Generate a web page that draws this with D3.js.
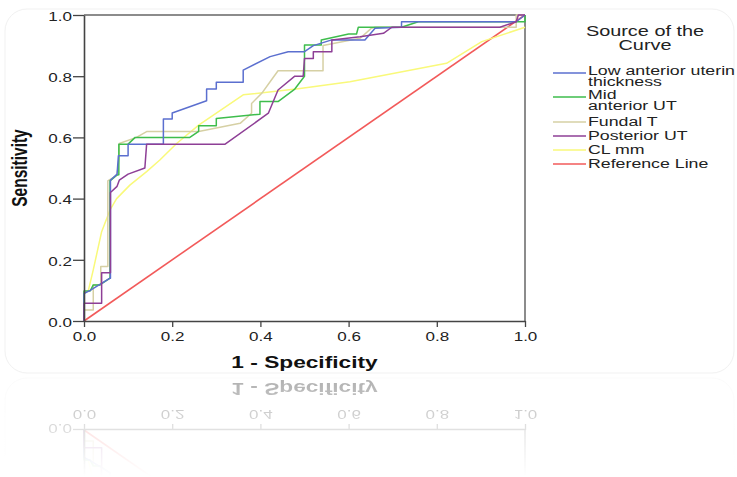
<!DOCTYPE html>
<html>
<head>
<meta charset="utf-8">
<script src="https://cdn.jsdelivr.net/npm/d3@7"></script>
<style>
  body { margin: 0; background: #fff; }
  svg { display: block; font-family: "Liberation Sans", Arial, sans-serif; }
</style>
</head>
<body>
<svg id="chart" width="737" height="477"></svg>
<script>
// ROC curves (x = 1 - specificity, y = sensitivity)
var lowAntX = [0, 0, 0.014, 0.059, 0.06, 0.06, 0.075, 0.078, 0.1, 0.1, 0.18, 0.18, 0.2, 0.2, 0.278, 0.278, 0.3, 0.3, 0.361, 0.361, 0.422, 0.463, 0.5, 0.52, 0.56, 0.637, 0.66, 0.72, 0.72, 0.98, 1];
var lowAntY = [0, 0.09, 0.1, 0.14, 0.14, 0.46, 0.48, 0.54, 0.54, 0.578, 0.578, 0.66, 0.66, 0.68, 0.72, 0.758, 0.758, 0.78, 0.78, 0.82, 0.864, 0.88, 0.88, 0.9, 0.918, 0.918, 0.957, 0.96, 0.978, 0.978, 1];

var midAntX = [0, 0, 0.014, 0.021, 0.036, 0.059, 0.059, 0.075, 0.079, 0.079, 0.1, 0.116, 0.24, 0.26, 0.26, 0.3, 0.3, 0.399, 0.399, 0.44, 0.478, 0.5, 0.5, 0.538, 0.538, 0.6, 0.618, 0.622, 0.72, 0.758, 1, 1];
var midAntY = [0, 0.098, 0.098, 0.118, 0.118, 0.14, 0.458, 0.477, 0.478, 0.578, 0.578, 0.6, 0.6, 0.62, 0.638, 0.638, 0.662, 0.676, 0.717, 0.717, 0.758, 0.8, 0.902, 0.902, 0.918, 0.938, 0.938, 0.96, 0.96, 0.978, 0.978, 1];

var fundalX = [0, 0, 0.021, 0.021, 0.038, 0.038, 0.054, 0.054, 0.075, 0.08, 0.08, 0.119, 0.142, 0.26, 0.354, 0.38, 0.38, 0.403, 0.422, 0.44, 0.542, 0.542, 0.626, 0.652, 0.66, 0.98, 0.98, 1];
var fundalY = [0, 0.036, 0.036, 0.118, 0.118, 0.178, 0.178, 0.458, 0.477, 0.54, 0.58, 0.6, 0.619, 0.619, 0.646, 0.679, 0.711, 0.744, 0.782, 0.818, 0.818, 0.9, 0.924, 0.957, 0.96, 0.96, 1, 1];

var posteriorX = [0, 0, 0.04, 0.04, 0.06, 0.06, 0.075, 0.08, 0.1, 0.138, 0.142, 0.32, 0.418, 0.44, 0.478, 0.497, 0.5, 0.52, 0.52, 0.562, 0.562, 0.626, 0.679, 0.698, 0.943, 0.98, 0.985, 1];
var posteriorY = [0, 0.058, 0.058, 0.158, 0.158, 0.42, 0.44, 0.46, 0.48, 0.5, 0.578, 0.578, 0.679, 0.755, 0.8, 0.8, 0.858, 0.858, 0.88, 0.88, 0.918, 0.929, 0.94, 0.96, 0.96, 0.978, 1, 1];

var clX = [0, 0.01, 0.021, 0.04, 0.059, 0.074, 0.104, 0.142, 0.172, 0.21, 0.26, 0.361, 0.49, 0.603, 0.822, 0.902, 1];
var clY = [0.09, 0.1, 0.167, 0.292, 0.363, 0.4, 0.444, 0.488, 0.526, 0.58, 0.64, 0.739, 0.76, 0.782, 0.842, 0.913, 0.96];

var refX = [0, 1];
var refY = [0, 1];

var seriesNames = ["Low anterior uterin\nthickness", "Mid\nanterior UT", "Fundal T", "Posterior UT", "CL mm", "Reference Line"];
var seriesColors = ["#5b6fcf", "#3ebd4c", "#d6d0a4", "#8e3f96", "#f9f97a", "#f25a5a"];
var tickValues = [0, 0.2, 0.4, 0.6, 0.8, 1.0];

var SX = 1.42; // the picture's text is stretched sideways

var svg = d3.select("#chart");
var defs = svg.append("defs");

var x = d3.scaleLinear().domain([0, 1]).range([84, 525]);
var y = d3.scaleLinear().domain([0, 1]).range([321, 15]);

var g = svg.append("g").attr("id", "main");

// card
g.append("rect")
  .attr("x", 5).attr("y", 9).attr("width", 729).attr("height", 364)
  .attr("rx", 22).attr("fill", "#fff").attr("stroke", "#f1f1f1");

// frame top / right
g.append("line").attr("x1", x(0)).attr("x2", x(1)).attr("y1", y(1)).attr("y2", y(1))
  .attr("stroke", "#8c8c8c").attr("stroke-width", 2);
g.append("line").attr("x1", x(1)).attr("x2", x(1)).attr("y1", y(1)).attr("y2", y(0))
  .attr("stroke", "#8c8c8c").attr("stroke-width", 2);

// curves
var allX = [lowAntX, midAntX, fundalX, posteriorX, clX, refX];
var allY = [lowAntY, midAntY, fundalY, posteriorY, clY, refY];
var line = d3.line().x(function (d) { return x(d[0]); }).y(function (d) { return y(d[1]); });
var order = [5, 4, 2, 1, 0, 3];
order.forEach(function (i) {
  var pts = d3.zip(allX[i], allY[i]);
  g.append("path")
    .attr("d", line(pts))
    .attr("fill", "none")
    .attr("stroke", seriesColors[i])
    .attr("stroke-width", i == 5 ? 1.6 : 1.5)
    .attr("stroke-linejoin", "round");
});

// axes
var xAxis = g.append("g").attr("transform", "translate(0," + y(0) + ")")
  .call(d3.axisBottom(x).tickValues(tickValues).tickFormat(d3.format(".1f")).tickSize(6).tickPadding(5).tickSizeOuter(0));
var yAxis = g.append("g").attr("transform", "translate(" + x(0) + ",0)")
  .call(d3.axisLeft(y).tickValues(tickValues).tickFormat(d3.format(".1f")).tickSize(11).tickPadding(1).tickSizeOuter(0));

[xAxis, yAxis].forEach(function (a) {
  a.selectAll(".domain").attr("stroke", "#444").attr("stroke-width", 1.6);
  a.selectAll(".tick line").attr("stroke", "#444").attr("stroke-width", 1.3);
  a.selectAll(".tick text").attr("font-size", 12).attr("fill", "#222")
    .attr("font-family", "Liberation Sans, Arial, sans-serif");
});
xAxis.selectAll(".tick text").attr("transform", "scale(" + SX + ",1)");
yAxis.selectAll(".tick text").attr("x", 0).attr("dy", "0.36em")
  .attr("transform", "translate(-12,1) scale(" + SX + ",1)");

// axis titles
g.append("text")
  .attr("transform", "translate(" + ((x(0) + x(1)) / 2) + ",368) scale(" + SX + ",1)")
  .attr("text-anchor", "middle").attr("font-size", 16).attr("font-weight", "bold").attr("fill", "#111")
  .text("1 - Specificity");
g.append("text")
  .attr("transform", "translate(27," + ((y(0) + y(1)) / 2) + ") scale(" + SX + ",1) rotate(-90)")
  .attr("text-anchor", "middle").attr("font-size", 15.5).attr("font-weight", "bold").attr("fill", "#111")
  .text("Sensitivity");

// legend
var lg = g.append("g");
["Source of the", "Curve"].forEach(function (t, i) {
  lg.append("text")
    .attr("transform", "translate(645," + (36 + i * 14) + ") scale(" + SX + ",1)")
    .attr("text-anchor", "middle").attr("font-size", 14).attr("fill", "#222").text(t);
});
var rowY = [73, 97, 122, 136, 150, 164];
seriesNames.forEach(function (name, i) {
  lg.append("line")
    .attr("x1", 553).attr("x2", 586).attr("y1", rowY[i]).attr("y2", rowY[i])
    .attr("stroke", seriesColors[i]).attr("stroke-width", 1.3);
  var parts = name.split("\n");
  var base = parts.length > 1 ? rowY[i] + 1.5 : rowY[i] + 3.5;
  parts.forEach(function (t, j) {
    lg.append("text")
      .attr("transform", "translate(588," + (base + j * 11.5) + ") scale(" + SX + ",1)")
      .attr("font-size", 12.5).attr("fill", "#222").text(t);
  });
});

// reflection below the card
var grad = defs.append("linearGradient").attr("id", "fade")
  .attr("gradientUnits", "userSpaceOnUse").attr("x1", 0).attr("y1", 376).attr("x2", 0).attr("y2", 477);
grad.append("stop").attr("offset", 0).attr("stop-color", "#fff").attr("stop-opacity", 0.34);
grad.append("stop").attr("offset", 1).attr("stop-color", "#fff").attr("stop-opacity", 0.0);
var mask = defs.append("mask").attr("id", "reflMask").attr("maskUnits", "userSpaceOnUse")
  .attr("x", 0).attr("y", 0).attr("width", 737).attr("height", 477);
mask.append("rect").attr("x", 0).attr("y", 376).attr("width", 737).attr("height", 101).attr("fill", "url(#fade)");

svg.append("g").attr("mask", "url(#reflMask)")
  .append("use").attr("href", "#main")
  .attr("transform", "translate(0,751) scale(1,-1)");
</script>
</body>
</html>
